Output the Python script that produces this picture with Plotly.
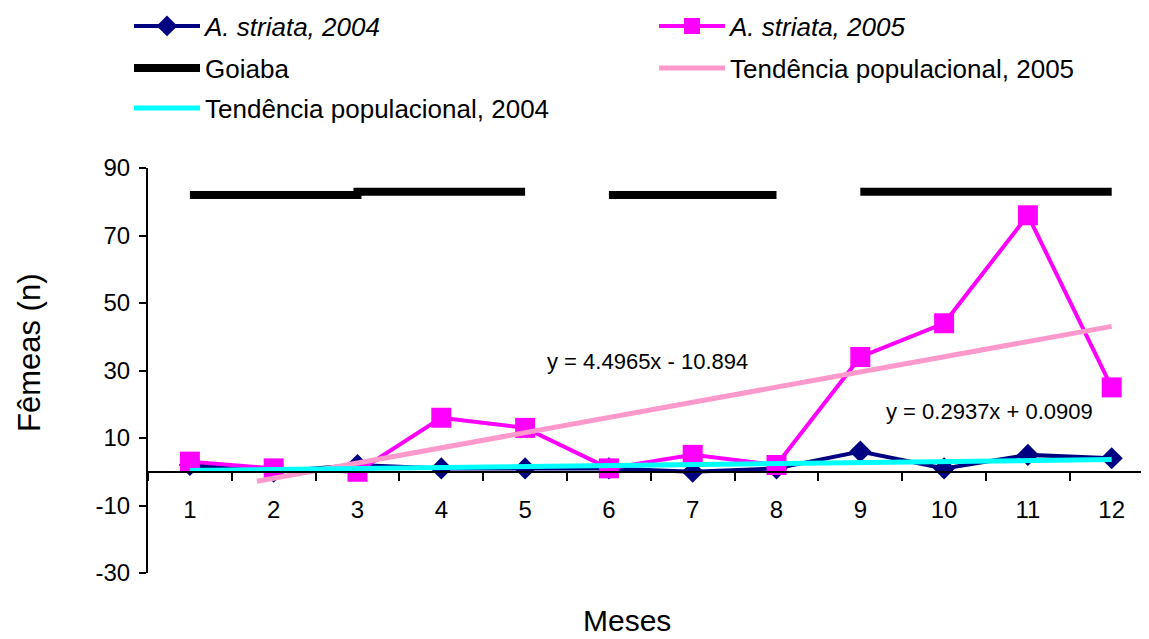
import numpy as np
import plotly.graph_objects as go

# ---- data ----
months = list(range(1, 13))
tick_labels = [str(m) for m in months]
y_tick_vals = [-30, -10, 10, 30, 50, 70, 90]
y_tick_labels = ["-30", "-10", "10", "30", "50", "70", "90"]
striata_2004 = [2, 0, 2, 1, 1, 1, 0, 1, 6, 1, 5, 4]
striata_2005 = [3, 1, 0, 16, 13, 1, 5, 2, 34, 44, 76, 25]
goiaba_x = [1, 2, 3, 3, 4, 5, None, 6, 7, 8, None, 9, 10, 11, 12]
goiaba_y = [82, 82, 82, 83, 83, 83, None, 82, 82, 82, None, 83, 83, 83, 83]
trend2005_start = 1.8
eq2005_text = "y = 4.4965x - 10.894"
eq2004_text = "y = 0.2937x + 0.0909"

# trend lines (least squares)
s04, i04 = np.polyfit(months, striata_2004, 1)
s05, i05 = np.polyfit(months, striata_2005, 1)
t04_x = [months[0], months[-1]]
t04_y = [s04 * x + i04 for x in t04_x]
t05_x = [trend2005_start, months[-1]]
t05_y = [s05 * x + i05 for x in t05_x]

FONT = "Liberation Sans, Arial, sans-serif"

fig = go.Figure()
fig.add_trace(go.Scatter(
    x=months, y=striata_2004, mode="lines+markers", name="<i>A. striata, 2004</i>",
    line=dict(color="#000080", width=4),
    marker=dict(symbol="diamond", size=17, color="#000080"),
    legend="legend"))
fig.add_trace(go.Scatter(
    x=months, y=striata_2005, mode="lines+markers", name="<i>A. striata, 2005</i>",
    line=dict(color="#FF00FF", width=4),
    marker=dict(symbol="square", size=20, color="#FF00FF"),
    legend="legend2"))
fig.add_trace(go.Scatter(
    x=goiaba_x, y=goiaba_y, mode="lines", name="Goiaba",
    line=dict(color="black", width=8), connectgaps=False,
    legend="legend3"))
fig.add_trace(go.Scatter(
    x=t05_x, y=t05_y, mode="lines", name="Tendência populacional, 2005",
    line=dict(color="#FF99CC", width=5),
    legend="legend4"))
fig.add_trace(go.Scatter(
    x=t04_x, y=t04_y, mode="lines", name="Tendência populacional, 2004",
    line=dict(color="#00FFFF", width=5),
    legend="legend5"))

OFF = 8  # page body margin
W, H = 1149 - OFF, 639 - OFF
ml, mr, mt, mb = 148 - OFF, 0, 168 - OFF, 66
pw = W - ml - mr
ph = H - mt - mb

def px_x(p):  # reference-pixel x -> paper
    return (p - OFF - ml) / pw

def px_y(p):  # reference-pixel y -> paper
    return (H - mb - (p - OFF)) / ph

leg_common = dict(
    orientation="h", xanchor="left", yanchor="middle",
    font=dict(family=FONT, size=26, color="black"),
    bgcolor="rgba(0,0,0,0)", itemwidth=66,
    traceorder="normal", itemclick=False,
)
col1, col2 = 129, 654
row1, row2, row3 = 26, 68, 108

fig.update_layout(
    width=W, height=H,
    margin=dict(l=ml, r=mr, t=mt, b=mb, autoexpand=False),
    paper_bgcolor="white", plot_bgcolor="white",
    font=dict(family=FONT, size=24, color="black"),
    showlegend=True,
    legend=dict(x=px_x(col1), y=px_y(row1), **leg_common),
    legend2=dict(x=px_x(col2), y=px_y(row1), **leg_common),
    legend3=dict(x=px_x(col1), y=px_y(row2), **leg_common),
    legend4=dict(x=px_x(col2), y=px_y(row2), **leg_common),
    legend5=dict(x=px_x(col1), y=px_y(row3), **leg_common),
    xaxis=dict(
        range=[0.5, 0.5 + pw / 83.8],
        tickmode="array", tickvals=months, ticktext=tick_labels,
        ticks="outside", ticklen=0, ticklabelstandoff=16,
        showgrid=False, zeroline=False,
        showline=True, linecolor="black", linewidth=2,
        anchor="free", position=0.25,
        minor=dict(ticks="outside", tick0=0.5, dtick=1, ticklen=8,
                   tickwidth=2, tickcolor="black"),
        tickfont=dict(family=FONT, size=24, color="black"),
    ),
    yaxis=dict(
        range=[-30, 90], tickmode="array", tickvals=y_tick_vals, ticktext=y_tick_labels,
        ticks="outside", ticklen=7, tickwidth=2, tickcolor="black",
        ticklabelstandoff=4,
        showgrid=False, zeroline=False,
        showline=True, linecolor="black", linewidth=2,
        tickfont=dict(family=FONT, size=24, color="black"),
    ),
    annotations=[
        dict(text="Meses", xref="paper", yref="paper", x=px_x(627), y=px_y(639),
             showarrow=False, font=dict(family=FONT, size=30, color="black"),
             xanchor="center", yanchor="bottom"),
        dict(text="Fêmeas (n)", xref="paper", yref="paper", x=px_x(29), y=px_y(353),
             showarrow=False, textangle=-90, font=dict(family=FONT, size=31, color="black"),
             xanchor="center", yanchor="middle"),
        dict(text=eq2005_text, xref="x", yref="y", x=6.455, y=32.8, showarrow=False,
             font=dict(family=FONT, size=22, color="black"),
             xanchor="center", yanchor="middle"),
        dict(text=eq2004_text, xref="x", yref="y", x=10.536, y=18.0, showarrow=False,
             font=dict(family=FONT, size=22, color="black"),
             xanchor="center", yanchor="middle"),
    ],
)

fig.write_html("out.html")
